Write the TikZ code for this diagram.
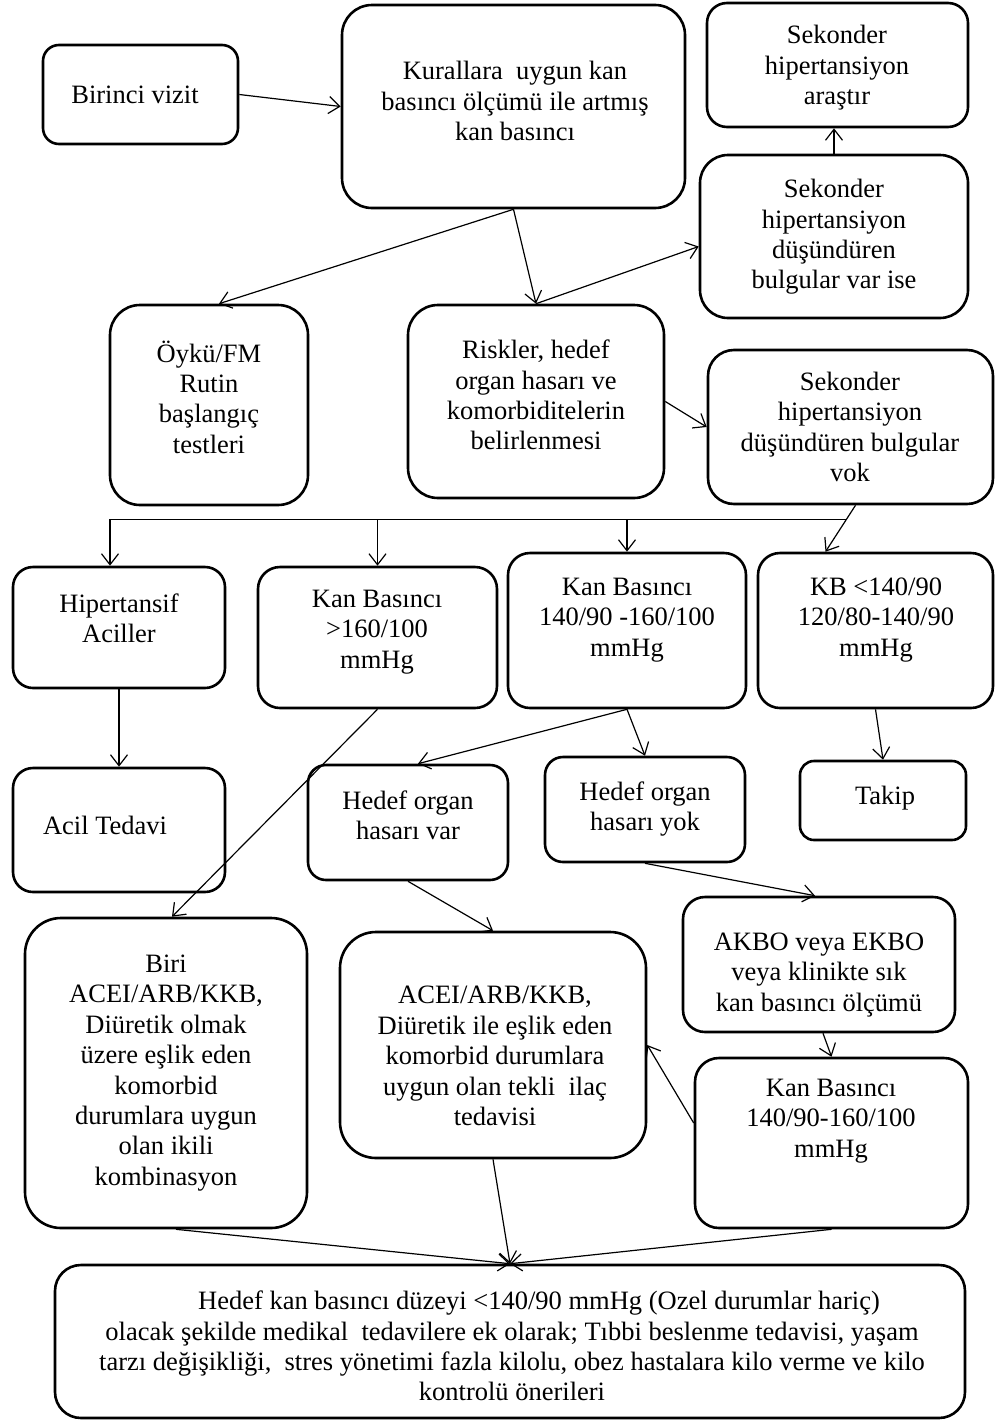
\documentclass[tikz,border=0pt]{standalone}
\usepackage{fontspec}
\setmainfont{Liberation Serif}
\usetikzlibrary{arrows.meta,fit,calc}
\tikzset{
  box/.style={draw, line width=2.6pt, inner sep=0pt},
  txt/.style={align=center, inner sep=0pt, font=\fontsize{26.5}{30.4}\selectfont},
  conn/.style={line width=1.2pt},
  arr/.style={conn, -{Straight Barb[length=11pt,width=17pt,line width=1.2pt]}},
}
\newcommand\mkbox[6]{\node[box, rounded corners=#6pt, fit={(#2,#3) (#4,#5)}] (#1) {};}
\begin{document}
\begin{tikzpicture}[x=1pt,y=-1pt]
\useasboundingbox (0,0) rectangle (995,1427);
% boxes
\mkbox{b1}{43}{45}{238}{144}{16}
\node[txt] (t1) at (135,95) {Birinci vizit};
\mkbox{b2}{342}{5}{685}{208}{30}
\node[txt] (t2) at (515,101) {Kurallara\ \ uygun kan\\basıncı ölçümü ile artmış\\kan basıncı};
\mkbox{b3}{707}{3}{968}{127}{20}
\node[txt] (t3) at (837,68) {Sekonder\\hipertansiyon\\araştır};
\mkbox{b4}{700}{155}{968}{318}{28}
\node[txt] (t4) at (834,237) {Sekonder\\hipertansiyon\\düşündüren\\bulgular var ise};
\mkbox{b5}{110}{305}{308}{505}{30}
\node[txt] (t5) at (209,397) {Öykü/FM\\Rutin\\başlangıç\\testleri};
\mkbox{b6}{408}{305}{664}{498}{30}
\node[txt] (t6) at (536,395) {Riskler, hedef\\organ hasarı ve\\komorbiditelerin\\belirlenmesi};
\mkbox{b7}{708}{350}{993}{504}{26}
\node[txt] (t7) at (850,427) {Sekonder\\hipertansiyon\\düşündüren bulgular\\vok};
\mkbox{b9}{13}{567}{225}{688}{20}
\node[txt] (t9) at (119,618) {Hipertansif\\Aciller};
\mkbox{b10}{258}{567}{497}{708}{22}
\node[txt] (t10) at (377,632) {Kan Basıncı\\>160/100\\mmHg};
\mkbox{b11}{508}{553}{746}{708}{22}
\node[txt] (t11) at (627,620) {Kan Basıncı\\140/90 -160/100\\mmHg};
\mkbox{b12}{758}{553}{993}{708}{22}
\node[txt] (t12) at (876,620) {KB <140/90\\120/80-140/90\\mmHg};
\mkbox{b13}{13}{768}{225}{892}{20}
\node[txt] (t13) at (105,825) {Acil Tedavi};
\mkbox{b14}{308}{765}{508}{880}{18}
\node[txt] (t14) at (408,815) {Hedef organ\\hasarı var};
\mkbox{b15}{545}{757}{745}{862}{18}
\node[txt] (t15) at (645,809) {Hedef organ\\hasarı yok};
\mkbox{b16}{800}{761}{966}{840}{14}
\node[txt] (t16) at (885,798) {Takip};
\mkbox{b17}{25}{918}{307}{1228}{36}
\node[txt] (t17) at (166,1073) {Biri\\ACEI/ARB/KKB,\\Diüretik olmak\\üzere eşlik eden\\komorbid\\durumlara uygun\\olan ikili\\kombinasyon};
\mkbox{b18}{340}{932}{646}{1158}{36}
\node[txt] (t18) at (495,1056) {ACEI/ARB/KKB,\\Diüretik ile eşlik eden\\komorbid durumlara\\uygun olan tekli\ \ ilaç\\tedavisi};
\mkbox{b19}{683}{897}{955}{1032}{22}
\node[txt] (t19) at (819,975) {AKBO veya EKBO\\veya klinikte sık\\kan basıncı ölçümü};
\mkbox{b20}{695}{1058}{968}{1228}{24}
\node[txt] (t20) at (831,1121) {Kan Basıncı\\140/90-160/100\\mmHg};
\mkbox{b21}{55}{1265}{965}{1418}{26}
\node[txt] (t21) at (512,1346) {\hspace*{54pt}Hedef kan basıncı düzeyi <140/90 mmHg (Ozel durumlar hariç)\\olacak şekilde medikal\ \ tedavilere ek olarak; Tıbbi beslenme tedavisi, yaşam\\tarzı değişikliği,\ \ stres yönetimi fazla kilolu, obez hastalara kilo verme ve kilo\\kontrolü önerileri};
% connectors
\draw[arr] (b1.east) -- (b2.west);
\draw[arr] (b2.south) -- (b6.north);
\draw[arr] (b2.south) -- ([xshift=10pt]b5.north);
\draw[arr] (b6.north) -- ([yshift=-10pt]b4.west);
\draw[arr] (b4.north) -- (b4.north |- b3.south);
\draw[arr] (b6.east) -- (b7.west);
\coordinate (k1) at ([xshift=5pt]b7.south);
\coordinate (k2) at ([xshift=-50pt]b12.north);
\draw[arr] (k1) -- (k2);
\coordinate (j) at ($(k1)!0.3!(k2)$);
\coordinate (h9) at ([xshift=-9pt]b9.north);
\draw[conn] (j) -- (h9 |- j);
\draw[arr] (h9 |- j) -- (h9);
\draw[arr] (b10.north |- j) -- (b10.north);
\draw[arr] (b11.north |- j) -- (b11.north);
\draw[arr] (b9.south) -- (b13.north);
\draw[arr] (b10.south) -- ([xshift=6pt]b17.north);
\draw[arr] (b11.south) -- ([xshift=10pt]b14.north);
\draw[arr] (b11.south) -- (b15.north);
\draw[arr] (b12.south) -- (b16.north);
\draw[arr] (b14.south) -- (b18.north);
\draw[arr] (b15.south) -- ([xshift=-4pt]b19.north);
\draw[arr] ([xshift=4pt]b19.south) -- (b20.north);
\draw[arr] ([yshift=20pt]b20.west) -- (b18.east);
\draw[arr] ([xshift=10pt]b17.south) -- (b21.north);
\draw[arr] (b18.south) -- (b21.north);
\draw[arr] (b20.south) -- (b21.north);
\end{tikzpicture}
\end{document}
